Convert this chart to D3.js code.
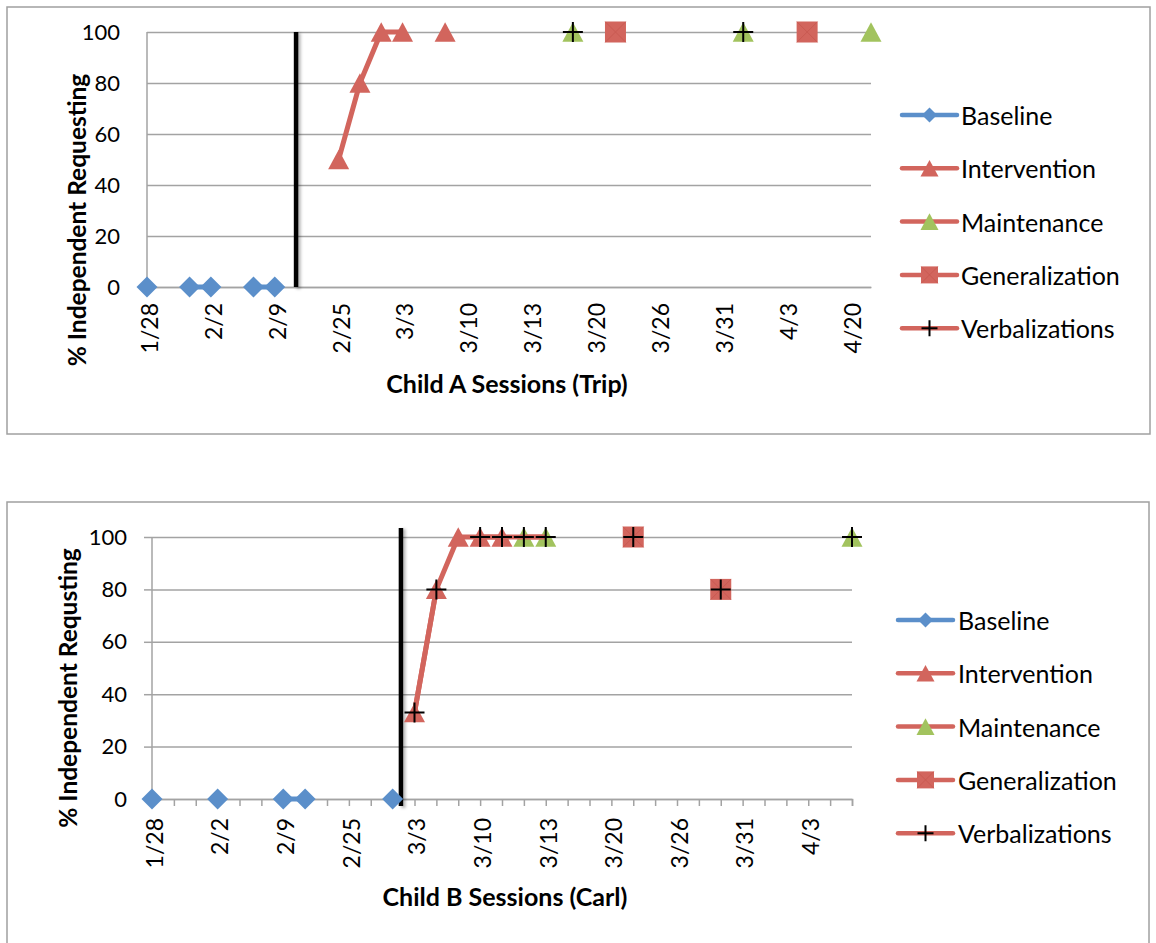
<!DOCTYPE html>
<html>
<head>
<meta charset="utf-8">
<script src="https://cdn.jsdelivr.net/npm/d3@7"></script>
<style>
  html, body { margin: 0; padding: 0; background: #fff; }
  svg { display: block; }
  text { font-family: Lato, "Open Sans", sans-serif; fill: #000; }
</style>
</head>
<body>
<svg id="chart" width="1156" height="943"></svg>
<script>
// ---------------- DATA ----------------
const seriesNames = ["Baseline", "Intervention", "Maintenance", "Generalization", "Verbalizations"];

// Child A (Trip): 35 sessions, labels every third session
const sessionCountA = 35;
const tickLabelsA = ["1/28", "2/2", "2/9", "2/25", "3/3", "3/10", "3/13", "3/20", "3/26", "3/31", "4/3", "4/20"];
const baselineSessionsA = [0, 2, 3, 5, 6];
const baselineValuesA = [0, 0, 0, 0, 0];
const interventionSessionsA = [9, 10, 11, 12, 14];
const interventionValuesA = [50, 80, 100, 100, 100];
const maintenanceSessionsA = [20, 28, 34];
const maintenanceValuesA = [100, 100, 100];
const generalizationSessionsA = [22, 31];
const generalizationValuesA = [100, 100];
const verbalSessionsA = [20, 28];
const verbalValuesA = [100, 100];
const phaseChangeA = 7;

// Child B (Carl): 33 sessions, labels every third session
const sessionCountB = 33;
const tickLabelsB = ["1/28", "2/2", "2/9", "2/25", "3/3", "3/10", "3/13", "3/20", "3/26", "3/31", "4/3"];
const baselineSessionsB = [0, 3, 6, 7, 11];
const baselineValuesB = [0, 0, 0, 0, 0];
const interventionSessionsB = [12, 13, 14, 15, 16];
const interventionValuesB = [33, 80, 100, 100, 100];
const maintenanceSessionsB = [17, 18, 32];
const maintenanceValuesB = [100, 100, 100];
const generalizationSessionsB = [22, 26];
const generalizationValuesB = [100, 80];
const verbalSessionsB = [12, 13, 15, 16, 17, 18, 22, 26, 32];
const verbalValuesB = [33, 80, 100, 100, 100, 100, 100, 80, 100];
const phaseChangeB = 11.38;

const yTicks = [0, 20, 40, 60, 80, 100];

// ---------------- STYLE ----------------
const BLUE = "#5B8FCA", RED = "#D2655D", GREEN = "#A2C35E";
const styles = {
  Baseline:       { line: BLUE, marker: "diamond",  fill: BLUE },
  Intervention:   { line: RED,  marker: "triangle", fill: RED },
  Maintenance:    { line: RED,  marker: "triangle", fill: GREEN },
  Generalization: { line: RED,  marker: "square",   fill: RED },
  Verbalizations: { line: RED,  marker: "plus",     fill: "#000" }
};
const GRID = "#A3A3A3";

const svg = d3.select("#chart");
svg.append("rect").attr("width", 1156).attr("height", 943).attr("fill", "#fff");

const defs = svg.append("defs");
const f = defs.append("filter").attr("id", "blur").attr("filterUnits", "userSpaceOnUse")
  .attr("x", 0).attr("y", 0).attr("width", 1156).attr("height", 943);
f.append("feGaussianBlur").attr("stdDeviation", 1.5);

function drawMarker(g, type, cx, cy, size, fill) {
  if (type === "diamond") {
    const r = size / 2;
    g.append("path").attr("d", `M${cx},${cy - r}L${cx + r},${cy}L${cx},${cy + r}L${cx - r},${cy}Z`).attr("fill", fill);
  } else if (type === "triangle") {
    const w = size, h = size * 0.92;
    g.append("path").attr("d", `M${cx},${cy - h / 2}L${cx + w / 2},${cy + h / 2}L${cx - w / 2},${cy + h / 2}Z`).attr("fill", fill);
  } else if (type === "square") {
    const s = size;
    g.append("rect").attr("x", cx - s / 2).attr("y", cy - s / 2).attr("width", s).attr("height", s).attr("fill", fill);
    g.append("path").attr("d", `M${cx - s / 2},${cy - s / 2}L${cx + s / 2},${cy + s / 2}M${cx + s / 2},${cy - s / 2}L${cx - s / 2},${cy + s / 2}`)
      .attr("stroke", "#B9463F").attr("stroke-width", 0.8).attr("opacity", 0.45);
  } else if (type === "plus") {
    const r = size / 2;
    g.append("path").attr("d", `M${cx - r},${cy}L${cx + r},${cy}M${cx},${cy - r}L${cx},${cy + r}`)
      .attr("stroke", fill).attr("stroke-width", 2);
  }
}

function drawChart(cfg) {
  const g = svg.append("g");
  // outer frame
  g.append("rect").attr("x", cfg.box[0]).attr("y", cfg.box[1]).attr("width", cfg.box[2]).attr("height", cfg.box[3])
    .attr("fill", "none").attr("stroke", "#A0A0A0").attr("stroke-width", 1.5);

  const x = d3.scalePoint().domain(d3.range(cfg.n)).range([cfg.plot[0], cfg.plot[1]]);
  const y = d3.scaleLinear().domain([0, 100]).range([cfg.plot[3], cfg.plot[2]]);
  const pw = cfg.plot[1] - cfg.plot[0];

  // gridlines
  const grid = g.append("g").attr("transform", `translate(${cfg.plot[0]},0)`)
    .call(d3.axisLeft(y).tickValues(yTicks).tickSize(-pw).tickFormat(""));
  grid.select(".domain").remove();
  grid.selectAll("line").attr("stroke", GRID).attr("stroke-width", 1.5);

  // y axis labels and ticks
  const ya = g.append("g").attr("transform", `translate(${cfg.plot[0]},0)`)
    .call(d3.axisLeft(y).tickValues(yTicks).tickSize(cfg.yTickLen).tickPadding(cfg.yPad));
  ya.select(".domain").attr("stroke", GRID).attr("stroke-width", 1.5).attr("d", `M0,${cfg.plot[3]}V${cfg.plot[2]}`);
  ya.selectAll("line").attr("stroke", GRID).attr("stroke-width", 1.5);
  ya.selectAll("text").attr("font-size", 22).attr("font-family", "Lato").attr("fill", "#000");

  // x axis
  const xa = g.append("g").attr("transform", `translate(0,${cfg.plot[3]})`)
    .call(d3.axisBottom(x).tickValues(d3.range(cfg.n)).tickSize(cfg.xTickLen).tickFormat(""));
  xa.select(".domain").attr("stroke", GRID).attr("stroke-width", 1.5);
  xa.selectAll("line").attr("stroke", GRID).attr("stroke-width", 1.5);

  const labelIdx = cfg.tickLabels.map((d, i) => i * 3);
  const xl = g.append("g").attr("transform", `translate(0,${cfg.plot[3]})`)
    .call(d3.axisBottom(x).tickValues(labelIdx).tickSize(0).tickFormat(i => cfg.tickLabels[i / 3]));
  xl.select(".domain").remove();
  xl.selectAll("text").attr("font-size", 23).attr("font-family", "Lato")
    .attr("transform", "rotate(-90)").attr("text-anchor", "end")
    .attr("x", -cfg.xPad).attr("y", 0).attr("dy", "0.45em");

  // phase change line (with soft shadow)
  const px = x(0) + (x(1) - x(0)) * cfg.phase;
  g.append("line").attr("x1", px + 2.5).attr("x2", px + 2.5)
    .attr("y1", cfg.phaseY[0] + 1).attr("y2", cfg.phaseY[1] + 2)
    .attr("stroke", "#000").attr("stroke-opacity", 0.3).attr("stroke-width", 4).attr("filter", "url(#blur)");
  g.append("line").attr("x1", px).attr("x2", px)
    .attr("y1", cfg.phaseY[0]).attr("y2", cfg.phaseY[1])
    .attr("stroke", "#000").attr("stroke-width", 4.5);

  // series
  const lineGen = d3.line().defined(d => d.v != null).x(d => x(d.i)).y(d => y(d.v));
  cfg.series.forEach(s => {
    const st = styles[s.name];
    const full = d3.range(cfg.n).map(i => {
      const k = s.sessions.indexOf(i);
      return { i, v: k >= 0 ? s.values[k] : null };
    });
    g.append("path").datum(full).attr("d", lineGen).attr("fill", "none")
      .attr("stroke", st.line).attr("stroke-width", 5).attr("stroke-linejoin", "round");
    const mg = g.append("g");
    s.sessions.forEach((si, k) => {
      const size = st.marker === "diamond" ? 21 : st.marker === "square" ? 21 : st.marker === "plus" ? 20 : 21;
      drawMarker(mg, st.marker, x(si), y(s.values[k]), size, st.fill);
    });
  });

  // titles
  g.append("text").attr("x", cfg.xTitle[1]).attr("y", cfg.xTitle[2]).attr("text-anchor", "middle")
    .attr("dominant-baseline", "central").attr("font-weight", "bold").attr("font-size", 25).text(cfg.xTitle[0]);
  g.append("text").attr("transform", `translate(${cfg.yTitle[1]},${cfg.yTitle[2]}) rotate(-90)`)
    .attr("text-anchor", "middle").attr("dominant-baseline", "central")
    .attr("font-weight", "bold").attr("font-size", 24.5).text(cfg.yTitle[0]);

  // legend
  const lg = g.append("g");
  seriesNames.forEach((name, i) => {
    const st = styles[name];
    const yy = cfg.legend[2] + i * 53.3;
    lg.append("line").attr("x1", cfg.legend[0]).attr("x2", cfg.legend[0] + 55).attr("y1", yy).attr("y2", yy)
      .attr("stroke", st.line).attr("stroke-width", 4.5).attr("stroke-linecap", "round");
    const size = st.marker === "diamond" ? 15 : st.marker === "square" ? 17 : st.marker === "plus" ? 16 : 18;
    drawMarker(lg, st.marker, cfg.legend[0] + 27.5, yy, size, st.fill);
    lg.append("text").attr("x", cfg.legend[1]).attr("y", yy).attr("dominant-baseline", "central")
      .attr("font-size", 25).text(name);
  });
}

drawChart({
  box: [7, 7, 1143, 427],
  plot: [147, 871, 32, 287],
  n: sessionCountA,
  tickLabels: tickLabelsA,
  yTickLen: 0, yPad: 27,
  xTickLen: 0, xPad: 16,
  phase: phaseChangeA, phaseY: [32, 287],
  series: [
    { name: "Baseline", sessions: baselineSessionsA, values: baselineValuesA },
    { name: "Intervention", sessions: interventionSessionsA, values: interventionValuesA },
    { name: "Maintenance", sessions: maintenanceSessionsA, values: maintenanceValuesA },
    { name: "Generalization", sessions: generalizationSessionsA, values: generalizationValuesA },
    { name: "Verbalizations", sessions: verbalSessionsA, values: verbalValuesA }
  ],
  xTitle: ["Child A Sessions (Trip)", 507, 383],
  yTitle: ["% Independent Requesting", 76, 220],
  legend: [902, 961, 115]
});

drawChart({
  box: [7, 502, 1142, 460],
  plot: [152, 852, 537, 799],
  n: sessionCountB,
  tickLabels: tickLabelsB,
  yTickLen: 8, yPad: 17,
  xTickLen: 7, xPad: 19,
  phase: phaseChangeB, phaseY: [528, 806],
  series: [
    { name: "Baseline", sessions: baselineSessionsB, values: baselineValuesB },
    { name: "Intervention", sessions: interventionSessionsB, values: interventionValuesB },
    { name: "Maintenance", sessions: maintenanceSessionsB, values: maintenanceValuesB },
    { name: "Generalization", sessions: generalizationSessionsB, values: generalizationValuesB },
    { name: "Verbalizations", sessions: verbalSessionsB, values: verbalValuesB }
  ],
  xTitle: ["Child B Sessions (Carl)", 505, 896],
  yTitle: ["% Independent Requsting", 67, 688],
  legend: [898, 958, 620]
});
</script>
</body>
</html>
